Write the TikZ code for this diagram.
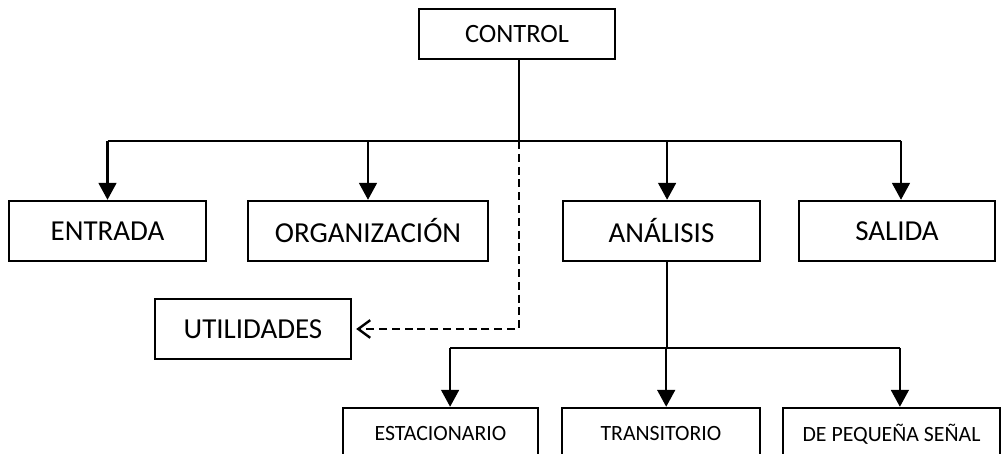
\documentclass[tikz,border=0pt]{standalone}
\usepackage{fontspec}
\setmainfont{Carlito}
\usepackage{tikz}
\usetikzlibrary{arrows.meta, positioning, calc}

\begin{document}
\begin{tikzpicture}[
        block/.style={rectangle, draw, line width=1.7pt, minimum width=4.9cm, minimum height=1.5cm, align=center, inner sep=0pt, font=\fontsize{20.6}{24}\selectfont},
        sub/.style={rectangle, draw, line width=1.7pt, minimum height=1.3cm, align=center, inner sep=0pt, font=\fontsize{15.5}{18}\selectfont},
        link/.style={line width=1.7pt},
        arrow/.style={-{Triangle[length=0.42cm, width=0.44cm]}, line width=1.7pt},
        util/.style={-{Straight Barb[length=0.3cm, width=0.44cm, line width=1.7pt]}, line width=1.7pt, dash pattern=on 0.2cm off 0.12cm}
    ]
        \clip (0,0) rectangle (25.075,11.35);

        % Top
        \node[block, minimum height=1.25cm, font=\fontsize{18.8}{22}\selectfont] (control) at (12.925, 10.5) {CONTROL};

        % Main modules
        \node[block, minimum width=4.925cm] (entrada) at (2.6875, 5.575) {ENTRADA};
        \node[block, minimum width=6cm] (organizacion) at (9.2, 5.575) {ORGANIZACIÓN};
        \node[block, minimum width=4.925cm] (analisis) at (16.5375, 5.575) {ANÁLISIS};
        \node[block] (salida) at (22.425, 5.575) {SALIDA};
        \node[block] (utilidades) at (6.325, 3.125) {UTILIDADES};

        % Analysis types
        \node[sub, minimum width=4.875cm] (estacionario) at (11.0125, 0.5) {ESTACIONARIO};
        \node[sub, minimum width=4.95cm] (transitorio) at (16.525, 0.5) {TRANSITORIO};
        \node[sub, minimum width=5.425cm] (pequena) at (22.2875, 0.5) {DE PEQUEÑA SEÑAL};

        % Buses
        \coordinate (bus) at (12.975, 7.825);
        \coordinate (lowbus) at (16.675, 2.65);

        \draw[link] ([xshift=0.05cm]control.south) -- ([xshift=0.05cm]control.south |- bus);
        \draw[link] (entrada.north |- bus) -- ([xshift=0.1cm]salida.north |- bus);
        \draw[arrow] (entrada.north |- bus) -- (entrada.north);
        \draw[arrow] (organizacion.north |- bus) -- (organizacion.north);
        \draw[arrow] ([xshift=0.14cm]analisis.north |- bus) -- ([xshift=0.14cm]analisis.north);
        \draw[arrow] ([xshift=0.1cm]salida.north |- bus) -- ([xshift=0.1cm]salida.north);
        \draw[util] ([xshift=0.05cm]control.south |- bus) |- ([xshift=0.1cm]utilidades.east);

        \draw[link] ([xshift=0.14cm]analisis.south) -- ([xshift=0.14cm]analisis.south |- lowbus);
        \draw[link] ([xshift=0.24cm]estacionario.north |- lowbus) -- ([xshift=0.21cm]pequena.north |- lowbus);
        \draw[arrow] ([xshift=0.24cm]estacionario.north |- lowbus) -- ([xshift=0.24cm]estacionario.north);
        \draw[arrow] ([xshift=0.13cm]transitorio.north |- lowbus) -- ([xshift=0.13cm]transitorio.north);
        \draw[arrow] ([xshift=0.21cm]pequena.north |- lowbus) -- ([xshift=0.21cm]pequena.north);
    \end{tikzpicture}
\end{document}
